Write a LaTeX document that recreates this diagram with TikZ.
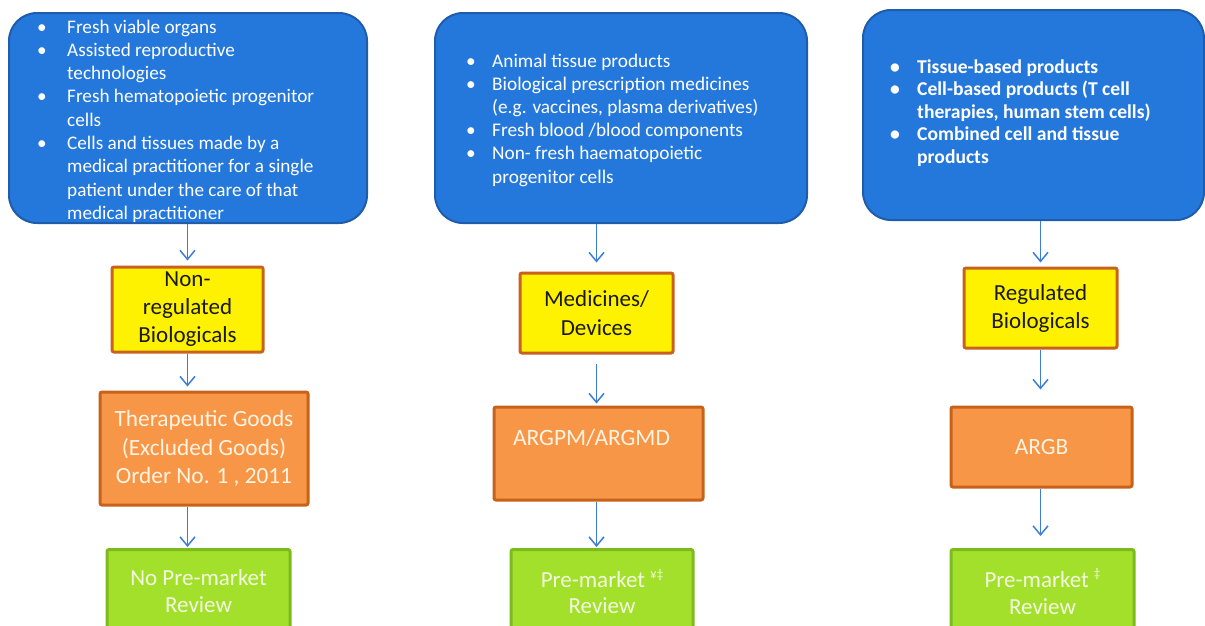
\documentclass[tikz,border=0pt]{standalone}
\usepackage{fontspec}
\setmainfont{Carlito}
\usetikzlibrary{arrows.meta,calc}
\definecolor{bluefill}{HTML}{2478DC}
\definecolor{blueline}{HTML}{1F5CAA}
\definecolor{brownline}{HTML}{C8621E}
\definecolor{orangefill}{HTML}{F79646}
\definecolor{orangeline}{HTML}{C8621A}
\definecolor{greenfill}{HTML}{A3E02C}
\definecolor{greenline}{HTML}{7DBA1E}
\definecolor{arrowblue}{HTML}{3C7ED6}
\definecolor{creamtext}{HTML}{FFF3E2}
\definecolor{greentext}{HTML}{F3FADF}
\tikzset{
  bluebox/.style={draw=blueline, line width=2pt, fill=bluefill, rounded corners=28pt, inner sep=0pt},
  listtext/.style={text=white, inner sep=0pt, anchor=base west},
  ybox/.style={draw=brownline, line width=3pt, fill=yellow, rounded corners=2pt, align=center, inner sep=0pt, text=black!90, font=\fontsize{23}{28}\selectfont},
  obox/.style={draw=orangeline, line width=3pt, fill=orangefill, rounded corners=2pt, align=center, inner sep=0pt, text=creamtext, font=\fontsize{23.3}{28.5}\selectfont},
  gbox/.style={draw=greenline, line width=3pt, fill=greenfill, rounded corners=2pt, align=center, inner sep=0pt, text=greentext, anchor=north, minimum height=84pt, font=\fontsize{23}{27}\selectfont},
  arr/.style={draw=arrowblue, line width=1.5pt, -{Straight Barb[length=9pt,width=15pt]}}
}
\begin{document}
\begin{tikzpicture}[x=1pt,y=-1pt]
\useasboundingbox (0,0) rectangle (1205,625);
\clip (0,0) rectangle (1205,625);
\fill[white] (0,0) rectangle (1205,625);
% blue boxes
\node[bluebox, minimum width=358pt, minimum height=210pt] (b1) at (188,118) {};
\node[bluebox, minimum width=372pt, minimum height=210pt] (b2) at (621,118) {};
\node[bluebox, minimum width=341pt, minimum height=210pt] (b3) at (1033.5,115) {};
\node[listtext, font=\fontsize{19.2}{23.3}\selectfont] (t1) at (37,33) {\begin{tabular}[t]{@{}p{30pt}@{}l@{}}
•&Fresh viable organs\\
•&Assisted reproductive\\
&technologies\\
•&Fresh hematopoietic progenitor\\
&cells\\
•&Cells and tissues made by a\\
&medical practitioner for a single\\
&patient under the care of that\\
&medical practitioner
\end{tabular}};
\node[listtext, font=\fontsize{19.3}{23.2}\selectfont] (t2) at (466,67) {\begin{tabular}[t]{@{}p{26pt}@{}l@{}}
•&Animal tissue products\\
•&Biological prescription medicines\\
&(e.g. vaccines, plasma derivatives)\\
•&Fresh blood /blood components\\
•&Non- fresh haematopoietic\\
&progenitor cells
\end{tabular}};
\node[listtext, font=\fontsize{19.6}{22.5}\selectfont\bfseries] (t3) at (890,73) {\begin{tabular}[t]{@{}p{27pt}@{}l@{}}
•&Tissue-based products\\
•&Cell-based products (T cell\\
&therapies, human stem cells)\\
•&Combined cell and tissue\\
&products
\end{tabular}};
% yellow boxes
\node[ybox, minimum width=151pt, minimum height=85pt] (y1) at (187.5,309.5) {Non-\\regulated\\Biologicals};
\node[ybox, minimum width=153pt, minimum height=80pt, font=\fontsize{23}{29}\selectfont] (y2) at (596.5,313) {Medicines/\\Devices};
\node[ybox, minimum width=153pt, minimum height=80pt] (y3) at (1040.5,308) {Regulated\\Biologicals};
% orange boxes
\node[obox, minimum width=208pt, minimum height=113pt] (o1) at (204,448.5) {Therapeutic Goods\\(Excluded Goods)\\Order No. 1 , 2011};
\node[obox, minimum width=209pt, minimum height=93pt] (o2) at (598.5,453.5) {};
\node[text=creamtext, inner sep=0pt, font=\fontsize{23.5}{28}\selectfont] (o2t) at (591.5,438) {ARGPM/ARGMD};
\node[obox, minimum width=181pt, minimum height=80pt] (o3) at (1041.5,447) {ARGB};
% green boxes
\node[gbox, minimum width=183pt] (g1) at (198.5,548) {No Pre-market\\Review};
\node[gbox, minimum width=182pt, font=\fontsize{23}{26}\selectfont] (g2) at (602,548) {Pre-market \raisebox{0.4em}{\fontsize{13}{13}\selectfont ¥‡}\\Review};
\node[gbox, minimum width=183pt] (g3) at (1042.5,548) {Pre-market \raisebox{0.4em}{\fontsize{13}{13}\selectfont ‡}\\Review};
% arrows
\draw[arr, shorten >=5pt] (b1.south -| y1.north) -- (y1.north);
\draw[arr, shorten >=4pt] (y1.south) -- (y1.south |- o1.north);
\draw[arr, shorten >=1pt] (y1.south |- o1.south) -- (y1.south |- g1.north);
\draw[arr, shorten >=9pt] (b2.south -| y2.north) -- (y2.north);
\draw[arr, shorten <=9pt, shorten >=2pt] (y2.south) -- (y2.south |- o2.north);
\draw[arr, shorten >=1pt] (y2.south |- o2.south) -- (y2.south |- g2.north);
\draw[arr, shorten >=4pt] (b3.south -| y3.north) -- (y3.north);
\draw[arr, shorten >=16pt] (y3.south) -- (y3.south |- o3.north);
\draw[arr, shorten >=12pt] (y3.south |- o3.south) -- (y3.south |- g3.north);
\end{tikzpicture}
\end{document}
